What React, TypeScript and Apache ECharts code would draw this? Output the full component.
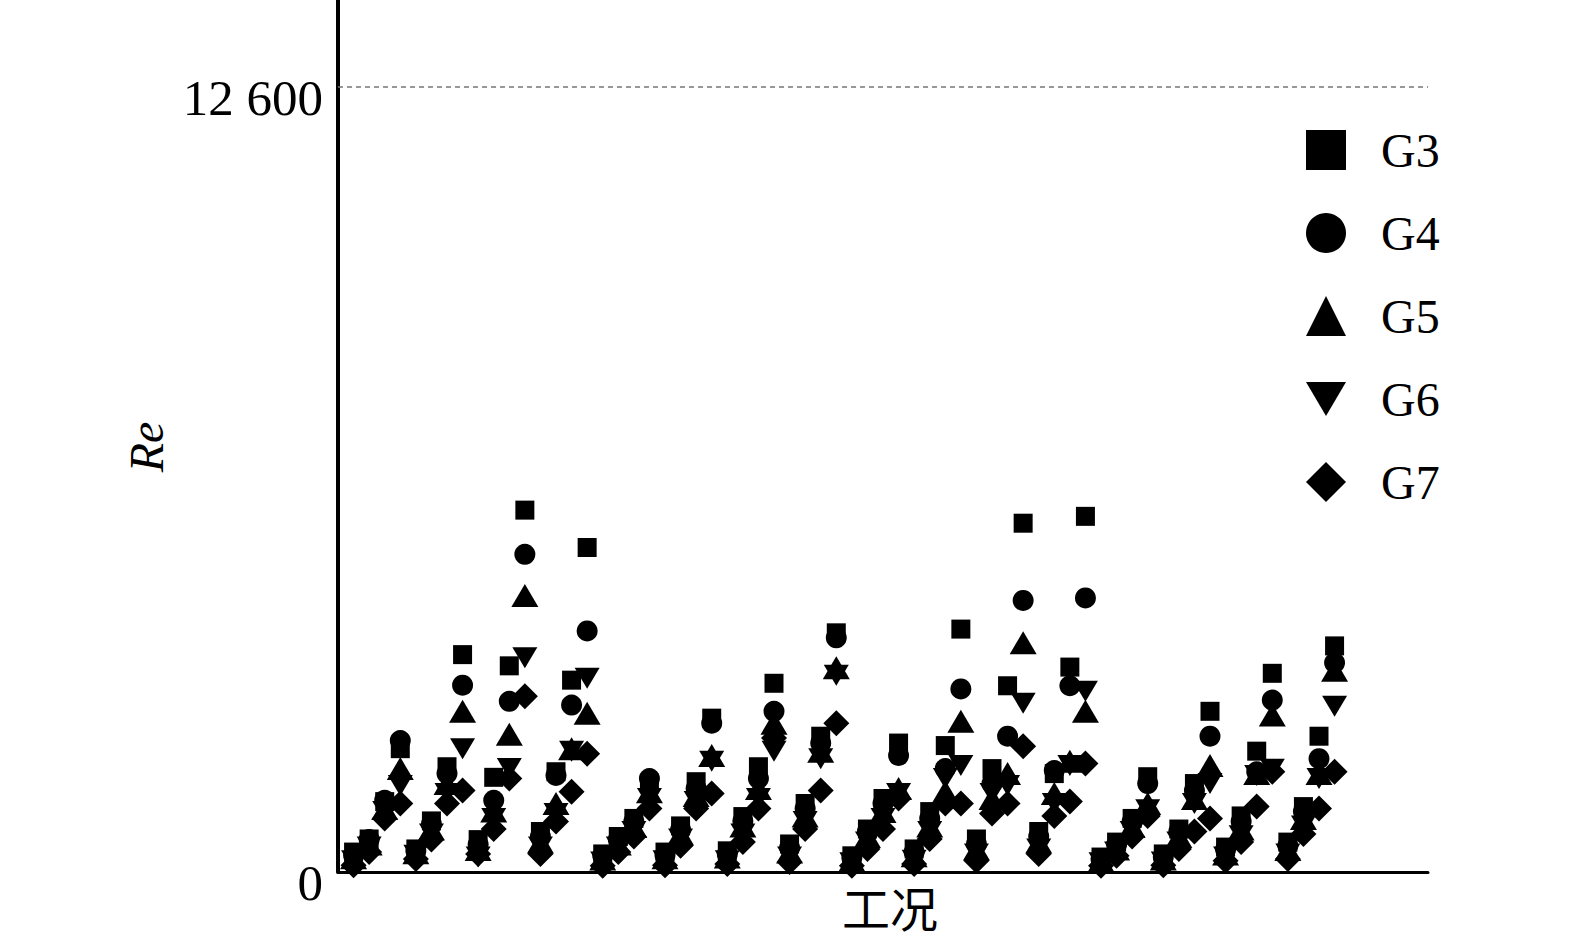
import React, { useEffect, useRef } from 'react';
import * as echarts from 'echarts';

// 64 operating conditions (工况), 4 groups x 4 sub-groups x 4 cases
const cases = [
  1, 2, 3, 4, 5, 6, 7, 8, 9, 10, 11, 12, 13, 14, 15, 16,
  17, 18, 19, 20, 21, 22, 23, 24, 25, 26, 27, 28, 29, 30, 31, 32,
  33, 34, 35, 36, 37, 38, 39, 40, 41, 42, 43, 44, 45, 46, 47, 48,
  49, 50, 51, 52, 53, 54, 55, 56, 57, 58, 59, 60, 61, 62, 63, 64,
];

const G3 = [
  320, 530, 1130, 1980, 370, 820, 1690, 3490, 520, 1520, 3310, 5810, 650, 1610, 3080, 5210,
  290, 570, 860, 1420, 320, 740, 1450, 2470, 340, 890, 1690, 3030, 450, 1100, 2180, 3840,
  260, 690, 1180, 2070, 370, 970, 2030, 3900, 530, 1660, 2990, 5600, 650, 1580, 3290, 5710,
  240, 480, 860, 1530, 290, 690, 1420, 2580, 400, 900, 1940, 3190, 480, 1050, 2180, 3630,
];
const G4 = [
  270, 520, 1150, 2110, 340, 770, 1580, 3000, 440, 1150, 2740, 5100, 570, 1550, 2680, 3870,
  260, 520, 810, 1500, 270, 680, 1340, 2390, 290, 820, 1500, 2580, 390, 1020, 2070, 3760,
  230, 650, 1100, 1870, 320, 860, 1660, 2940, 450, 1420, 2180, 4360, 570, 1630, 2990, 4400,
  210, 440, 810, 1420, 240, 650, 1310, 2180, 360, 810, 1610, 2760, 420, 970, 1820, 3360,
];
const G5 = [
  230, 450, 1020, 1660, 310, 690, 1420, 2580, 360, 980, 2210, 4440, 480, 1100, 1980, 2550,
  210, 450, 730, 1290, 230, 610, 1230, 1870, 240, 740, 1340, 2390, 320, 900, 1940, 3280,
  190, 570, 970, 1340, 260, 740, 1290, 2420, 370, 1180, 1580, 3680, 480, 1260, 1780, 2580,
  180, 370, 730, 1100, 210, 570, 1180, 1710, 290, 690, 1580, 2520, 360, 860, 1580, 3240,
];
const G6 = [
  180, 400, 970, 1390, 270, 610, 1260, 1980, 240, 860, 1660, 3440, 400, 940, 1940, 3110,
  160, 400, 650, 1180, 180, 530, 1130, 1780, 180, 610, 1180, 1940, 240, 810, 1820, 3160,
  150, 480, 860, 1260, 190, 650, 1500, 1710, 290, 1260, 1390, 2710, 370, 1100, 1710, 2900,
  150, 320, 650, 1000, 160, 480, 1100, 1420, 240, 580, 1550, 1650, 290, 740, 1500, 2660,
];
const G7 = [
  110, 320, 860, 1100, 210, 520, 1100, 1310, 290, 690, 1500, 2820, 290, 810, 1290, 1900,
  100, 320, 570, 1020, 110, 420, 1020, 1260, 130, 480, 1020, 2150, 160, 690, 1310, 2390,
  100, 370, 690, 1180, 130, 530, 1100, 1100, 180, 940, 1100, 2020, 290, 900, 1130, 1740,
  100, 260, 570, 900, 110, 370, 650, 860, 180, 480, 1050, 1610, 210, 610, 1020, 1610,
];

const seriesNames = ['G3', 'G4', 'G5', 'G6', 'G7'];
const seriesValues = [G3, G4, G5, G6, G7];
const yTickValues = [0, 12600];
const yTickLabels = ['0', '12 600'];
const yMax = 14000;
const xMax = 70;

export default function App() {
  const ref = useRef<HTMLDivElement>(null);

  useEffect(() => {
    document.documentElement.style.margin = '0';
    document.documentElement.style.overflow = 'hidden';
    document.body.style.margin = '0';
    document.body.style.overflow = 'hidden';
    const chart = echarts.init(ref.current as HTMLDivElement, null, {
      renderer: 'svg',
      width: 1575,
      height: 944,
    });

    const DOWN = 'path://M0,0L20,0L10,17Z';
    const symbols = ['rect', 'circle', 'triangle', DOWN, 'diamond'];
    const sizes: any[] = [19, 21, [27, 23], [25, 21], [26, 26]];
    const serif = '"Liberation Serif", "Times New Roman", serif';

    const series: any[] = seriesNames.map((name, i) => ({
      name,
      type: 'scatter',
      symbol: symbols[i],
      symbolSize: sizes[i],
      itemStyle: { color: '#000', opacity: 1 },
      data: cases.map((c, k) => [c, seriesValues[i][k]]),
      z: 10 - i,
    }));
    series[0].markLine = {
      silent: true,
      symbol: 'none',
      label: { show: false },
      lineStyle: { type: [5, 4], color: '#777', width: 1.5 },
      data: [{ yAxis: yTickValues[1] }],
    };

    chart.setOption({
      animation: false,
      backgroundColor: '#fff',
      textStyle: { fontFamily: serif, color: '#000' },
      grid: {
        left: 338,
        right: 147,
        top: 0,
        bottom: 72,
        containLabel: false,
        outerBoundsMode: 'none',
      },
      legend: {
        orient: 'vertical',
        left: 1301,
        top: 121,
        itemWidth: 40,
        itemHeight: 40,
        itemGap: 35,
        data: seriesNames,
        textStyle: {
          fontFamily: serif,
          fontSize: 48,
          lineHeight: 48,
          color: '#000',
          padding: [0, 0, 0, 30],
        },
      },
      xAxis: {
        type: 'value',
        min: 0,
        max: xMax,
        name: '工况',
        nameLocation: 'middle',
        nameGap: 10,
        nameTextStyle: {
          fontFamily: '"Noto Sans CJK SC", "Liberation Serif", serif',
          fontSize: 48,
          lineHeight: 48,
          color: '#000',
          padding: [0, 0, 0, 14],
        },
        axisLine: { show: true, onZero: false, lineStyle: { color: '#000', width: 3 } },
        axisTick: { show: false },
        axisLabel: { show: false },
        splitLine: { show: false },
      },
      yAxis: {
        type: 'value',
        min: 0,
        max: yMax,
        interval: yTickValues[1],
        name: 'Re',
        nameLocation: 'middle',
        nameGap: 168,
        nameRotate: 90,
        nameTextStyle: {
          fontFamily: serif,
          fontStyle: 'italic',
          fontSize: 48,
          color: '#000',
          padding: [0, 22, 0, 0],
        },
        axisLine: { show: true, lineStyle: { color: '#000', width: 4 } },
        axisTick: { show: false },
        axisLabel: {
          showMaxLabel: false,
          margin: 15,
          fontFamily: serif,
          fontSize: 51,
          color: '#000',
          verticalAlign: 'top',
          lineHeight: 22,
          formatter: (v: number) => {
            const idx = yTickValues.indexOf(v);
            return idx >= 0 ? yTickLabels[idx] : '';
          },
        },
        splitLine: { show: false },
      },
      series,
    });

    return () => chart.dispose();
  }, []);

  return (
    <div
      ref={ref}
      style={{ position: 'fixed', left: 0, top: 0, width: 1575, height: 944 }}
    />
  );
}
